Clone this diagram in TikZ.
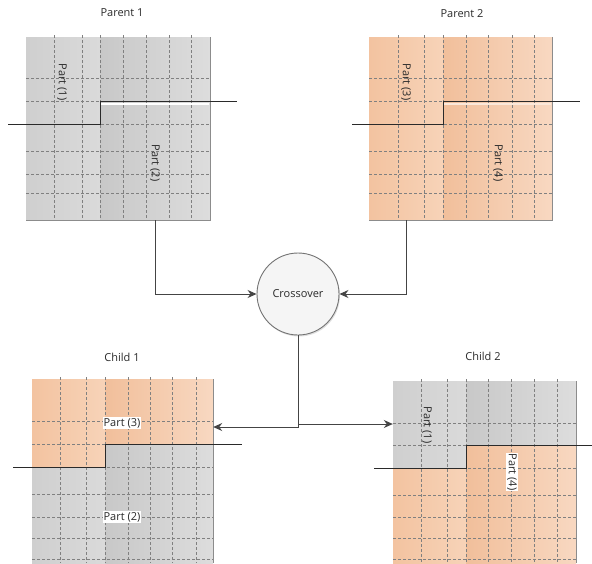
\documentclass[tikz,border=0pt]{standalone}
\usepackage{fontspec}
\setmainfont{Open Sans}
\usetikzlibrary{arrows.meta,calc,shadows}
\definecolor{gA}{HTML}{CFCFCF}
\definecolor{gB}{HTML}{DADADA}
\definecolor{gC}{HTML}{C8C8C8}
\definecolor{gD}{HTML}{DDDDDD}
\definecolor{oA}{HTML}{F3C3A0}
\definecolor{oB}{HTML}{F7D3B8}
\definecolor{oC}{HTML}{F1BF9B}
\definecolor{oD}{HTML}{F8D8C1}
\definecolor{ink}{HTML}{2A2A2A}
\definecolor{conn}{HTML}{444444}
\tikzset{
  lbl/.style={font=\fontsize{11}{13}\selectfont, text=ink, inner sep=1pt},
  partlbl/.style={lbl, rotate=-90},
  whitelbl/.style={lbl, fill=white, inner sep=1pt},
  gridline/.style={draw=black!50, line width=0.5pt, dash pattern=on 2.5pt off 2.5pt},
  stepline/.style={draw=ink, line width=0.9pt},
  edge/.style={draw=black!45, line width=0.9pt},
  boxarea/.style={inner sep=0pt, draw=none},
  arr/.style={draw=conn, line width=1pt, -{Stealth[length=9pt,width=8pt]}},
  xnode/.style={circle, minimum size=82pt, inner sep=0pt, draw=black!55, line width=0.9pt,
     fill=black!4, font=\fontsize{11}{13}\selectfont, text=ink,
     drop shadow={shadow xshift=1pt, shadow yshift=-1.5pt, opacity=0.25}}
}
\begin{document}
\begin{tikzpicture}[x=1pt,y=-1pt]
\useasboundingbox (0,0) rectangle (592,563);
\clip (0,0) rectangle (592,563);
% ---------- named box areas
\node[boxarea, minimum width=184pt, minimum height=183pt] (p1) at (118,128.5) {};
\node[boxarea, minimum width=183pt, minimum height=183pt] (p2) at (460.5,128.5) {};
\node[boxarea, minimum width=181pt, minimum height=200pt] (c1) at (122.5,479) {};
\node[boxarea, minimum width=183pt, minimum height=200pt] (c2) at (484.5,481) {};
% ---------- Parent 1 fill
\shade[left color=gA, right color=gB] (26,37) rectangle (100,220);
\shade[left color=gC, right color=gD] (100,37) rectangle (210,220);
% ---------- Parent 2 fill
\shade[left color=oA, right color=oB] (369,37) rectangle (443,220);
\shade[left color=oC, right color=oD] (443,37) rectangle (552,220);
% ---------- Child 1 fill
\shade[left color=oA, right color=oB] (32,379) rectangle (105,467);
\shade[left color=oC, right color=oD] (105,379) rectangle (213,444);
\shade[left color=gA, right color=gB] (32,467) rectangle (105,580);
\shade[left color=gC, right color=gD] (105,444) rectangle (213,580);
% ---------- Child 2 fill
\shade[left color=gA, right color=gB] (393,381) rectangle (466,468);
\shade[left color=gC, right color=gD] (466,381) rectangle (576,445);
\shade[left color=oA, right color=oB] (393,468) rectangle (466,580);
\shade[left color=oC, right color=oD] (466,445) rectangle (576,580);
% ---------- grids
\foreach \x in {54,82,100,123,146,169,191} \draw[gridline] (\x,35) -- (\x,220);
\foreach \y in {78,101,124,151,174,193} \draw[gridline] (26,\y) -- (210,\y);
\foreach \x in {398,424,443,466,488,512,534} \draw[gridline] (\x,35) -- (\x,220);
\foreach \y in {78,101,124,151,174,193} \draw[gridline] (369,\y) -- (552,\y);
\foreach \x in {60,86,105,128,150,172,196} \draw[gridline] (\x,377) -- (\x,563);
\foreach \y in {421,444,467,494,517,538,559} \draw[gridline] (32,\y) -- (213,\y);
\foreach \x in {421,447,466,488,511,534,557} \draw[gridline] (\x,379) -- (\x,563);
\foreach \y in {423,445,468,495,517,538,559} \draw[gridline] (393,\y) -- (576,\y);
% ---------- box edges
\draw[edge] (210,37) -- (210,220) -- (26,220);
\draw[edge] (552,37) -- (552,220) -- (369,220);
\draw[edge] (213,379) -- (213,563);
\draw[edge] (576,381) -- (576,563);
% ---------- light strips under the upper steps
\draw[white, line width=1.6pt] (101,104) -- (209,104);
\draw[oD!60!white, line width=1.4pt] (444,104) -- (551,104);
% ---------- step lines
\draw[stepline] (8,124) -- (100,124) -- (100,101) -- (237,101);
\draw[stepline] (352,124) -- (443,124) -- (443,101) -- (580,101);
\draw[stepline] (13,467) -- (105,467) -- (105,444) -- (242,444);
\draw[stepline] (374,468) -- (466,468) -- (466,445) -- (592,445);
% ---------- part labels
\node[partlbl] (l1) at (62,82) {Part (1)};
\node[partlbl] (l2) at (155,163) {Part (2)};
\node[partlbl] (l3) at (406,82) {Part (3)};
\node[partlbl] (l4) at (498,163) {Part (4)};
\node[whitelbl] (l5) at (122,423) {Part (3)};
\node[whitelbl] (l6) at (122,517) {Part (2)};
\node[partlbl] (l7) at (427,425) {Part (1)};
\node[whitelbl, rotate=-90] (l8) at (512,472) {Part (4)};
% ---------- titles
\node[lbl] (t1) at (122,13) {Parent 1};
\node[lbl] (t2) at (462,14) {Parent 2};
\node[lbl] (t3) at (122,357) {Child 1};
\node[lbl] (t4) at (483,356) {Child 2};
% ---------- crossover
\node[xnode] (cx) at (298,294) {Crossover};
\coordinate (j1) at (298,427);
\coordinate (j2) at (298,424);
\draw[arr] ([xshift=37pt]p1.south) |- (cx.west);
\draw[arr] ([xshift=-54.5pt]p2.south) |- (cx.east);
\draw[arr] (cx.south) -- (j1) -- (j1 -| c1.east);
\draw[arr] (j2) -- (j2 -| c2.west);
\end{tikzpicture}
\end{document}
